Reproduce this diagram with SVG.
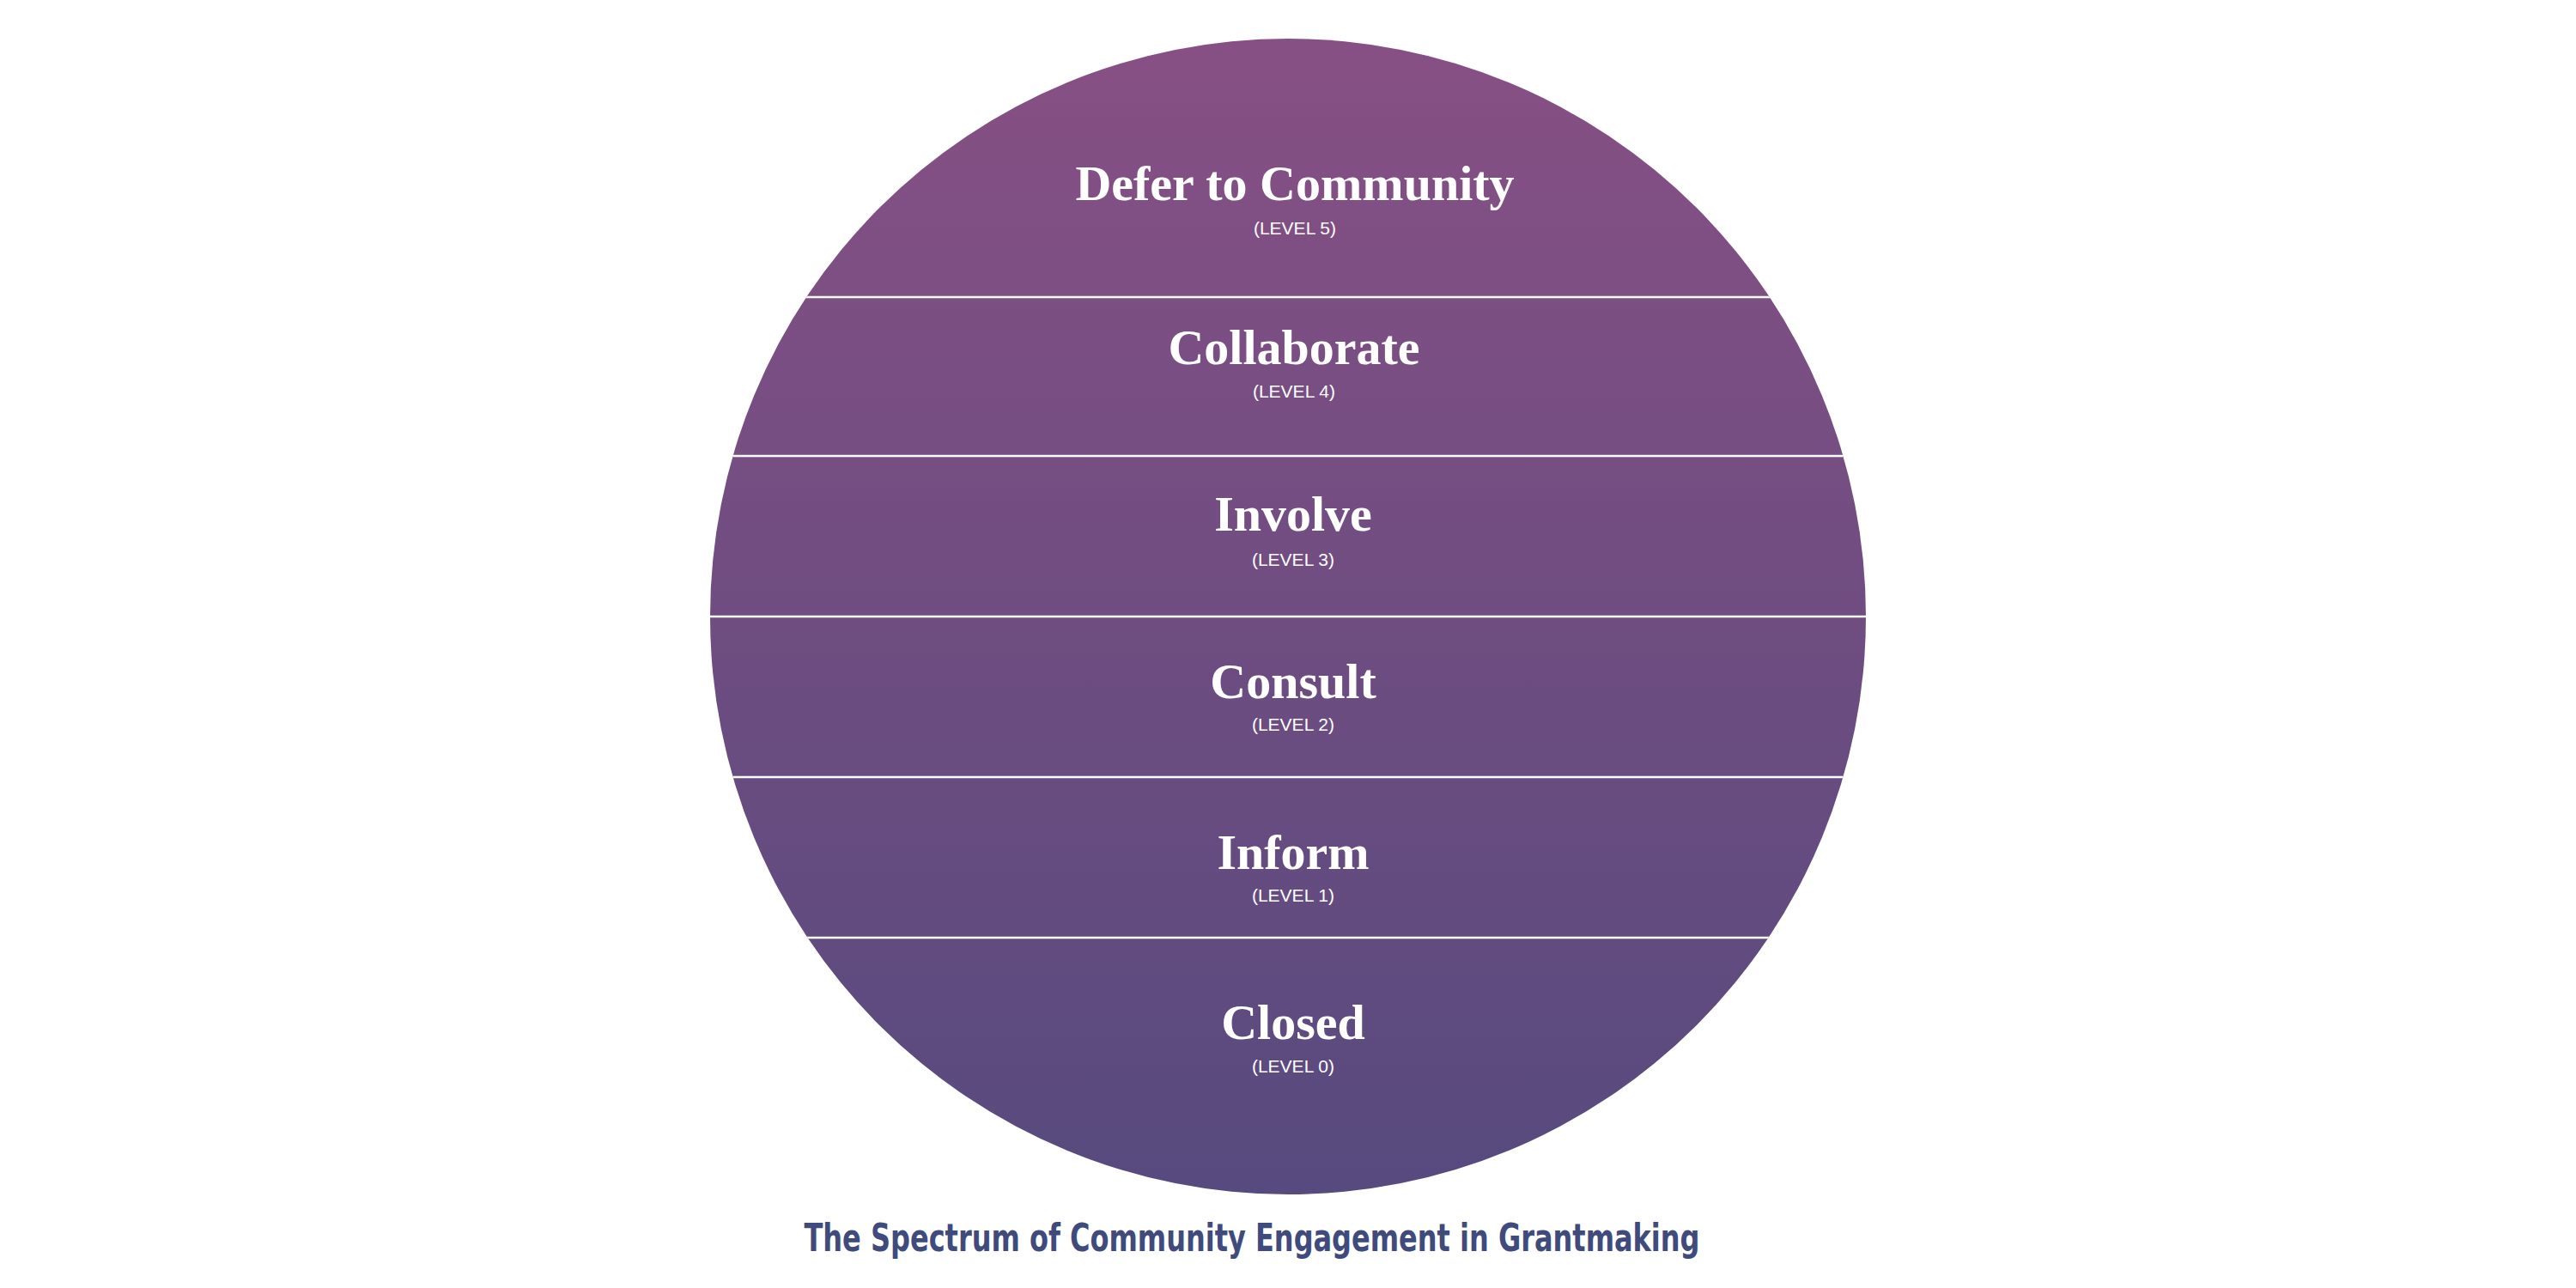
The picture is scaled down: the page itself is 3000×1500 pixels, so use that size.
<svg xmlns="http://www.w3.org/2000/svg" width="3000" height="1500" viewBox="0 0 3000 1500">
  <style>
    .title { font-family: "Liberation Serif", "DejaVu Serif", serif; font-weight: 700; font-size: 58px; fill: #ffffff; text-anchor: middle; }
    .level { font-family: "Liberation Sans", "Noto Sans", sans-serif; font-weight: 400; font-size: 21px; fill: #ffffff; text-anchor: middle; }
    .divider { stroke: #ffffff; stroke-width: 2.5; fill: none; }
    .caption { font-family: "DejaVu Sans Condensed", "Roboto", "Liberation Sans", sans-serif; font-weight: 700; font-size: 44px; fill: #3e4b7c; text-anchor: middle; }
  </style>
  <defs>
    <linearGradient id="grad" x1="0" y1="45" x2="0" y2="1391" gradientUnits="userSpaceOnUse">
      <stop offset="0" stop-color="#875084"/>
      <stop offset="1" stop-color="#574a7e"/>
    </linearGradient>
    <clipPath id="circleClip">
      <circle cx="1500" cy="718" r="673"/>
    </clipPath>
  </defs>
  <rect width="3000" height="1500" fill="#ffffff"/>
  <circle id="spectrum-circle" cx="1500" cy="718" r="673" fill="url(#grad)"/>
  <g id="dividers" clip-path="url(#circleClip)">
    <line class="divider" x1="800" y1="346" x2="2200" y2="346"/>
    <line class="divider" x1="800" y1="531" x2="2200" y2="531"/>
    <line class="divider" x1="800" y1="718" x2="2200" y2="718"/>
    <line class="divider" x1="800" y1="905" x2="2200" y2="905"/>
    <line class="divider" x1="800" y1="1092" x2="2200" y2="1092"/>
  </g>
  <g id="level5">
    <text class="title" x="1508" y="233">Defer to Community</text>
    <text class="level" x="1508" y="273">(LEVEL 5)</text>
  </g>
  <g id="level4">
    <text class="title" x="1507" y="424">Collaborate</text>
    <text class="level" x="1507" y="463">(LEVEL 4)</text>
  </g>
  <g id="level3">
    <text class="title" x="1506" y="618">Involve</text>
    <text class="level" x="1506" y="659">(LEVEL 3)</text>
  </g>
  <g id="level2">
    <text class="title" x="1506" y="813">Consult</text>
    <text class="level" x="1506" y="851">(LEVEL 2)</text>
  </g>
  <g id="level1">
    <text class="title" x="1506" y="1012">Inform</text>
    <text class="level" x="1506" y="1050">(LEVEL 1)</text>
  </g>
  <g id="level0">
    <text class="title" x="1506" y="1210">Closed</text>
    <text class="level" x="1506" y="1249">(LEVEL 0)</text>
  </g>
  <g id="caption">
    <text class="caption" x="1458" y="1457" textLength="1043" lengthAdjust="spacingAndGlyphs">The Spectrum of Community Engagement in Grantmaking</text>
  </g>
</svg>
